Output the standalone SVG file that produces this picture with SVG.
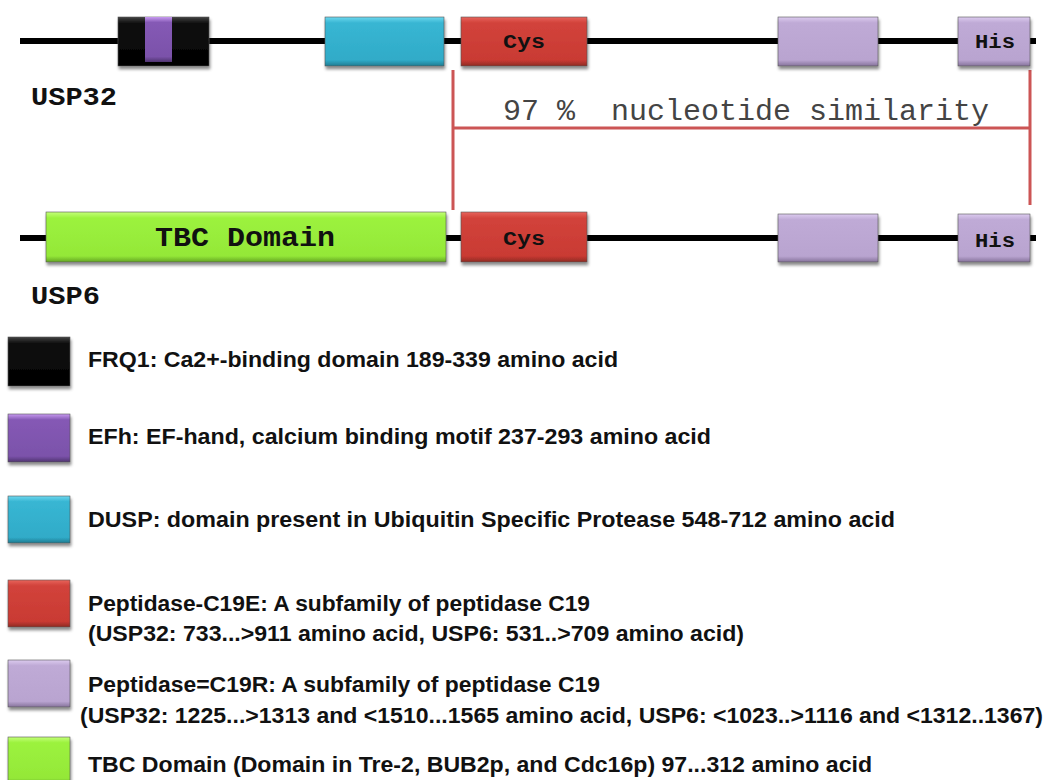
<svg xmlns="http://www.w3.org/2000/svg" width="1049" height="780" viewBox="0 0 1049 780">
<defs>
<filter id="sh" x="-10%" y="-20%" width="120%" height="150%"><feDropShadow dx="1" dy="3" stdDeviation="1.5" flood-color="#000" flood-opacity="0.45"/></filter>
<linearGradient id="gRed" x1="0" y1="0" x2="0" y2="1"><stop offset="0" stop-color="#e8645c"/><stop offset="0.12" stop-color="#d2433b"/><stop offset="0.88" stop-color="#c93a33"/><stop offset="1" stop-color="#8f2a24"/></linearGradient>
<linearGradient id="gCyan" x1="0" y1="0" x2="0" y2="1"><stop offset="0" stop-color="#6fd8ef"/><stop offset="0.12" stop-color="#38b6d3"/><stop offset="0.88" stop-color="#30abc8"/><stop offset="1" stop-color="#1f7c92"/></linearGradient>
<linearGradient id="gLav" x1="0" y1="0" x2="0" y2="1"><stop offset="0" stop-color="#dccbef"/><stop offset="0.12" stop-color="#bfaad6"/><stop offset="0.88" stop-color="#b9a4d0"/><stop offset="1" stop-color="#86739b"/></linearGradient>
<linearGradient id="gGreen" x1="0" y1="0" x2="0" y2="1"><stop offset="0" stop-color="#c4ff7a"/><stop offset="0.12" stop-color="#9cf23e"/><stop offset="0.88" stop-color="#94e838"/><stop offset="1" stop-color="#64a624"/></linearGradient>
<linearGradient id="gBlack" x1="0" y1="0" x2="0" y2="1"><stop offset="0" stop-color="#444"/><stop offset="0.12" stop-color="#111"/><stop offset="1" stop-color="#000"/></linearGradient>
<linearGradient id="gPurple" x1="0" y1="0" x2="0" y2="1"><stop offset="0" stop-color="#c79af0"/><stop offset="0.12" stop-color="#8559b5"/><stop offset="0.88" stop-color="#7b52aa"/><stop offset="1" stop-color="#4f3470"/></linearGradient>
<style>
.bb{stroke:#555;stroke-width:0.6;filter:url(#sh)}
.lab{font-family:"Liberation Mono","Courier New",monospace;font-weight:bold;fill:#111}
.leg{font-family:"Liberation Sans Narrow","Liberation Sans",Arial,sans-serif;font-weight:bold;font-size:22px;fill:#111}
.br{stroke:#cc5555;stroke-width:3;fill:none}
</style>
</defs>
<g id="connectors">
<line x1="20" y1="41" x2="1036" y2="41" stroke="#000" stroke-width="6"/>
<line x1="20" y1="238" x2="1036" y2="238" stroke="#000" stroke-width="6"/>
<path class="br" d="M453 70 V210 M1030 70 V205 M453 128 H1030"/>
</g>
<g id="usp32">
<g id="frq1"><rect class="bb" x="118" y="17" width="91" height="49" fill="url(#gBlack)"/><rect x="145" y="17" width="27" height="45" fill="url(#gPurple)"/></g>
<g id="dusp"><rect class="bb" x="325" y="17" width="119" height="49" fill="url(#gCyan)"/></g>
<g id="cys1"><rect class="bb" x="461" y="17" width="126" height="49" fill="url(#gRed)"/><text class="lab" x="503" y="48" font-size="20" textLength="42" lengthAdjust="spacingAndGlyphs">Cys</text></g>
<g id="c19r1"><rect class="bb" x="778" y="17" width="100" height="49" fill="url(#gLav)"/></g>
<g id="his1"><rect class="bb" x="958" y="17" width="72" height="49" fill="url(#gLav)"/><text class="lab" x="975" y="48" font-size="20" textLength="40" lengthAdjust="spacingAndGlyphs">His</text></g>
<text class="lab" x="31" y="105" font-size="26" textLength="86" lengthAdjust="spacingAndGlyphs">USP32</text>
</g>
<g id="similarity"><text x="503" y="120" font-family="Liberation Mono,'Courier New',monospace" font-size="30" fill="#444" xml:space="preserve" style="white-space:pre">97 %  nucleotide similarity</text></g>
<g id="usp6">
<g id="tbc"><rect class="bb" x="46" y="212" width="400" height="50" fill="url(#gGreen)"/><text class="lab" x="155" y="246" font-size="28" textLength="180" lengthAdjust="spacingAndGlyphs">TBC Domain</text></g>
<g id="cys2"><rect class="bb" x="461" y="212" width="126" height="50" fill="url(#gRed)"/><text class="lab" x="503" y="245" font-size="20" textLength="42" lengthAdjust="spacingAndGlyphs">Cys</text></g>
<g id="c19r2"><rect class="bb" x="778" y="214" width="100" height="48" fill="url(#gLav)"/></g>
<g id="his2"><rect class="bb" x="958" y="214" width="72" height="48" fill="url(#gLav)"/><text class="lab" x="975" y="247" font-size="20" textLength="40" lengthAdjust="spacingAndGlyphs">His</text></g>
<text class="lab" x="31" y="304" font-size="26" textLength="69" lengthAdjust="spacingAndGlyphs">USP6</text>
</g>
<g id="legend">
<g id="leg-frq1"><rect class="bb" x="8" y="337" width="62" height="49" fill="url(#gBlack)"/><text class="leg" x="88" y="367" textLength="530" lengthAdjust="spacingAndGlyphs">FRQ1: Ca2+-binding domain 189-339 amino acid</text></g>
<g id="leg-efh"><rect class="bb" x="8" y="414" width="62" height="48" fill="url(#gPurple)"/><text class="leg" x="88" y="444" textLength="623" lengthAdjust="spacingAndGlyphs">EFh: EF-hand, calcium binding motif 237-293 amino acid</text></g>
<g id="leg-dusp"><rect class="bb" x="8" y="496" width="62" height="47" fill="url(#gCyan)"/><text class="leg" x="88" y="527" textLength="807" lengthAdjust="spacingAndGlyphs">DUSP: domain present in Ubiquitin Specific Protease 548-712 amino acid</text></g>
<g id="leg-c19e"><rect class="bb" x="8" y="580" width="62" height="47" fill="url(#gRed)"/><text class="leg" x="88" y="611" textLength="502" lengthAdjust="spacingAndGlyphs">Peptidase-C19E: A subfamily of peptidase C19</text><text class="leg" x="88" y="641" textLength="656" lengthAdjust="spacingAndGlyphs">(USP32: 733...&gt;911 amino acid, USP6: 531..&gt;709 amino acid)</text></g>
<g id="leg-c19r"><rect class="bb" x="8" y="660" width="62" height="47" fill="url(#gLav)"/><text class="leg" x="88" y="692" textLength="512" lengthAdjust="spacingAndGlyphs">Peptidase=C19R: A subfamily of peptidase C19</text><text class="leg" x="80" y="723" textLength="963" lengthAdjust="spacingAndGlyphs">(USP32: 1225...&gt;1313 and &lt;1510...1565 amino acid, USP6: &lt;1023..&gt;1116 and &lt;1312..1367)</text></g>
<g id="leg-tbc"><rect class="bb" x="8" y="737" width="62" height="47" fill="url(#gGreen)"/><text class="leg" x="88" y="772" textLength="784" lengthAdjust="spacingAndGlyphs">TBC Domain (Domain in Tre-2, BUB2p, and Cdc16p) 97...312 amino acid</text></g>
</g>
</svg>
